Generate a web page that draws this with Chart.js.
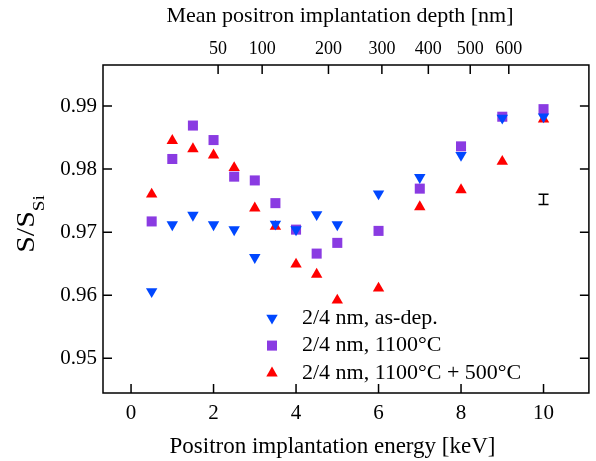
<!DOCTYPE html>
<html>
<head>
<meta charset="utf-8">
<script src="https://cdn.jsdelivr.net/npm/chart.js@4.4.1/dist/chart.umd.min.js"></script>
<style>
  html, body { margin: 0; padding: 0; background: #fff; }
  #wrap { width: 596px; height: 461px; }
</style>
</head>
<body>
<div id="wrap"><canvas id="chart" width="596" height="461"></canvas></div>
<script>
// positron energy [keV]
const energy = [0.5, 1, 1.5, 2, 2.5, 3, 3.5, 4, 4.5, 5, 6, 7, 8, 9, 10];

// S/S_Si values
const asDep = [0.9606, 0.9712, 0.9727, 0.9712, 0.9704, 0.9660, 0.9713, 0.9704, 0.9728, 0.9712, 0.9761, 0.9787, 0.9822, 0.9881, 0.9883];
const ann1100 = [0.9717, 0.9816, 0.9869, 0.9846, 0.9788, 0.9782, 0.9746, 0.9704, 0.9666, 0.9683, 0.9702, 0.9769, 0.9836, 0.9883, 0.9895];
const ann1100and500 = [0.9760, 0.9845, 0.9832, 0.9822, 0.9802, 0.9738, 0.9709, 0.9649, 0.9633, 0.9592, 0.9611, 0.9740, 0.9767, 0.9812, 0.9879];

const seriesLabels = ["2/4 nm, as-dep.", "2/4 nm, 1100°C", "2/4 nm, 1100°C + 500°C"];

const xTicks = [0, 2, 4, 6, 8, 10];
const yTicks = [0.95, 0.96, 0.97, 0.98, 0.99];
const depthTicks = [50, 100, 200, 300, 400, 500, 600];   // nm, top axis

const xTitle = "Positron implantation energy [keV]";
const topTitle = "Mean positron implantation depth [nm]";

// typical error bar
const errX = [10];
const errY = [0.9752];
const errHalf = [0.0008];

// mean depth z = A * E^n  ->  E = (z/A)^(1/n)
const depthA = 14.12, depthN = 1.693;
const energyForDepth = z => Math.pow(z / depthA, 1 / depthN);

const toPts = arr => energy.map((e, i) => ({ x: e, y: arr[i] }));

const FONT = '"Liberation Serif", "Times New Roman", serif';
Chart.defaults.font.family = FONT;
Chart.defaults.color = "#000";

const xMin = -0.68, xMax = 11.1;

const drawMarker = (ctx, ds, x, y) => {
    const opts = {
        pointStyle: ds.pointStyle,
        rotation: ds.pointRotation || 0,
        radius: ds.pointRadius,
        borderWidth: 0
    };
    ctx.fillStyle = ds.pointBackgroundColor;
    ctx.strokeStyle = ds.pointBackgroundColor;
    Chart.helpers.drawPoint(ctx, opts, x, y);
};

const decorations = {
    id: "decorations",
    afterDatasetsDraw(chart) {
        const { ctx, chartArea: a, scales } = chart;
        ctx.save();

        // frame + inward ticks
        ctx.strokeStyle = "#000";
        ctx.lineWidth = 1.5;
        ctx.strokeRect(a.left, a.top, a.right - a.left, a.bottom - a.top);
        const tl = 9;
        ctx.beginPath();
        xTicks.forEach(v => {
            const px = scales.x.getPixelForValue(v);
            ctx.moveTo(px, a.bottom); ctx.lineTo(px, a.bottom - tl);
        });
        depthTicks.forEach(z => {
            const px = scales.x2.getPixelForValue(energyForDepth(z));
            ctx.moveTo(px, a.top); ctx.lineTo(px, a.top + tl);
        });
        yTicks.forEach(v => {
            const py = scales.y.getPixelForValue(v);
            ctx.moveTo(a.left, py); ctx.lineTo(a.left + tl, py);
            ctx.moveTo(a.right, py); ctx.lineTo(a.right - tl, py);
        });
        ctx.stroke();

        // error bar
        ctx.lineWidth = 1.5;
        ctx.beginPath();
        errX.forEach((ex, i) => {
            const px = scales.x.getPixelForValue(ex);
            const p1 = scales.y.getPixelForValue(errY[i] + errHalf[i]);
            const p2 = scales.y.getPixelForValue(errY[i] - errHalf[i]);
            ctx.moveTo(px, p1); ctx.lineTo(px, p2);
            ctx.moveTo(px - 5, p1); ctx.lineTo(px + 5, p1);
            ctx.moveTo(px - 5, p2); ctx.lineTo(px + 5, p2);
        });
        ctx.stroke();

        // legend inside plot
        const mx = a.left + 169, tx = a.left + 199;
        let ry = a.top + 253;
        ctx.font = "22px " + FONT;
        ctx.textBaseline = "middle";
        ctx.textAlign = "left";
        chart.data.datasets.forEach(ds => {
            drawMarker(ctx, ds, mx, ry);
            ctx.fillStyle = "#000";
            ctx.fillText(ds.label, tx, ry);
            ry += 27.6;
        });

        // axis titles
        ctx.fillStyle = "#000";
        ctx.textAlign = "center";
        ctx.font = "23px " + FONT;
        ctx.fillText(xTitle, a.left + 229.5, 447);
        ctx.font = "22px " + FONT;
        ctx.fillText(topTitle, a.left + 237, 16);

        // y title with subscript (stretched along its direction)
        ctx.textAlign = "left";
        ctx.translate(34, a.top + 159);
        ctx.rotate(-Math.PI / 2);
        ctx.scale(1.2, 1);
        const mainFont = "25px " + FONT, subFont = "16px " + FONT;
        ctx.font = mainFont;
        const wMain = ctx.measureText("S/S").width;
        ctx.font = subFont;
        const wSub = ctx.measureText("Si").width;
        const start = -(wMain + wSub) / 2;
        ctx.textBaseline = "alphabetic";
        ctx.font = mainFont;
        ctx.fillText("S/S", start, 0);
        ctx.font = subFont;
        ctx.fillText("Si", start + wMain, 10);

        ctx.restore();
    }
};

new Chart(document.getElementById("chart"), {
    type: "scatter",
    data: {
        datasets: [
            {
                label: seriesLabels[0],
                data: toPts(asDep),
                pointStyle: "triangle",
                pointRotation: 180,
                pointRadius: 6.6,
                pointHoverRadius: 6.6,
                pointBackgroundColor: "#0047ff",
                pointBorderWidth: 0
            },
            {
                label: seriesLabels[1],
                data: toPts(ann1100),
                pointStyle: "rect",
                pointRadius: 7.1,
                pointHoverRadius: 7.1,
                pointBackgroundColor: "#8a3be2",
                pointBorderWidth: 0
            },
            {
                label: seriesLabels[2],
                data: toPts(ann1100and500),
                pointStyle: "triangle",
                pointRadius: 6.6,
                pointHoverRadius: 6.6,
                pointBackgroundColor: "#ff0000",
                pointBorderWidth: 0
            }
        ]
    },
    options: {
        responsive: false,
        animation: false,
        devicePixelRatio: 1,
        layout: { padding: { left: 0, right: 6, top: 0, bottom: 0 } },
        plugins: { legend: { display: false }, tooltip: { enabled: false } },
        scales: {
            x: {
                type: "linear",
                position: "bottom",
                min: xMin,
                max: xMax,
                afterBuildTicks: s => { s.ticks = xTicks.map(v => ({ value: v })); },
                afterFit: s => { s.height = 68; },
                grid: { display: false, drawTicks: false },
                border: { display: false },
                ticks: { font: { size: 21 }, padding: 8, maxRotation: 0, autoSkip: false, color: "#000" },
                title: { display: false, text: xTitle }
            },
            x2: {
                type: "linear",
                position: "top",
                min: xMin,
                max: xMax,
                afterBuildTicks: s => { s.ticks = depthTicks.map(z => ({ value: energyForDepth(z) })); },
                afterFit: s => { s.height = 65; },
                grid: { display: false, drawTicks: false },
                border: { display: false },
                ticks: {
                    font: { size: 18 }, padding: 5, maxRotation: 0, autoSkip: false, color: "#000",
                    callback: (v, i) => depthTicks[i]
                },
                title: { display: false, text: topTitle }
            },
            y: {
                type: "linear",
                min: 0.9445,
                max: 0.9965,
                afterBuildTicks: s => { s.ticks = yTicks.map(v => ({ value: v })); },
                afterFit: s => { s.width = 103; },
                grid: { display: false, drawTicks: false },
                border: { display: false },
                ticks: { font: { size: 21 }, padding: 6, color: "#000", callback: v => v.toFixed(2) }
            }
        }
    },
    plugins: [decorations]
});
</script>
</body>
</html>
